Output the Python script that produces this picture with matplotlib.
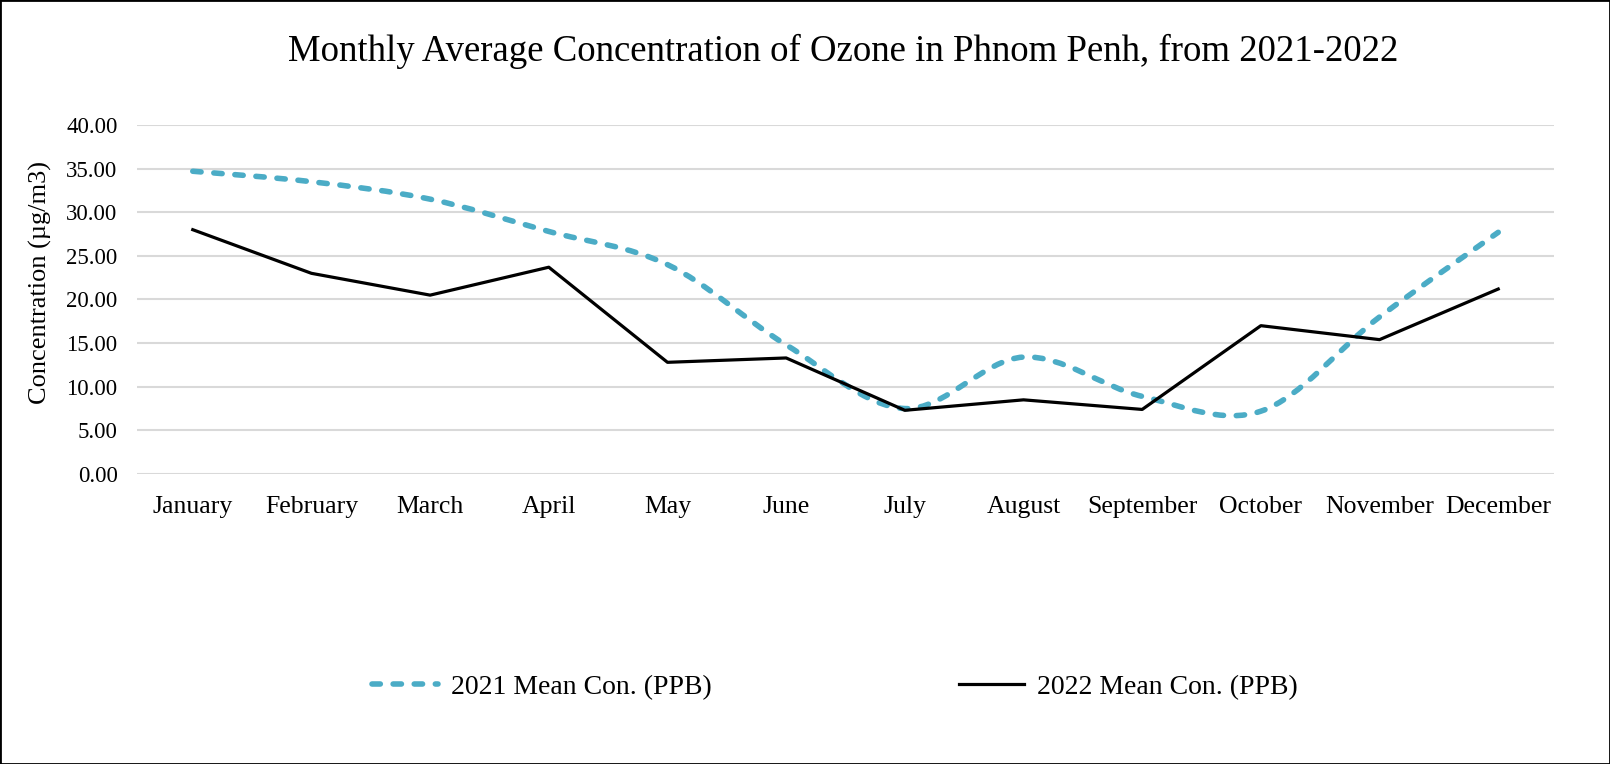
import numpy as np
import matplotlib.pyplot as plt
from matplotlib.path import Path
from matplotlib.patches import PathPatch, Rectangle
from matplotlib.lines import Line2D

plt.rcParams['font.family'] = ['Liberation Serif', 'DejaVu Serif']

months = ['January', 'February', 'March', 'April', 'May', 'June', 'July',
          'August', 'September', 'October', 'November', 'December']
mean_2021 = [34.7, 33.5, 31.5, 27.8, 24.0, 14.8, 7.5, 13.4, 8.9, 7.2, 18.0, 27.7]
mean_2022 = [28.0, 23.0, 20.5, 23.7, 12.8, 13.3, 7.3, 8.5, 7.4, 17.0, 15.4, 21.2]
yticks = [0, 5, 10, 15, 20, 25, 30, 35, 40]

W, H = 1610, 764
fig = plt.figure(figsize=(W / 100, H / 100), dpi=100)
ax = fig.add_axes([137 / W, 1 - 474 / H, (1554 - 137) / W, (474 - 125) / H])

x = np.arange(len(months))

# smoothed 2021 line (Excel-style bezier through the points)
pts = np.column_stack([x, mean_2021]).astype(float)
verts = [pts[0]]
codes = [Path.MOVETO]
n = len(pts)
for i in range(n - 1):
    p0 = pts[max(i - 1, 0)]
    p1 = pts[i]
    p2 = pts[i + 1]
    p3 = pts[min(i + 2, n - 1)]
    c1 = p1 + (p2 - p0) / 6
    c2 = p2 - (p3 - p1) / 6
    verts += [c1, c2, p2]
    codes += [Path.CURVE4] * 3
blue = '#4BACC6'
dash = (0, (1.5, 2.3))
patch = PathPatch(Path(verts, codes), fill=False, edgecolor=blue, lw=4,
                  linestyle=dash, capstyle='round', zorder=3)
ax.add_patch(patch)

ax.plot(x, mean_2022, color='black', lw=2.3, zorder=4)

ax.set_xlim(-0.47, len(months) - 0.53)
ax.set_ylim(0, 40)
ax.set_yticks(yticks)
ax.set_yticklabels([f'{v:.2f}' for v in yticks], fontsize=16.5)
ax.set_xticks(x)
ax.set_xticklabels(months, fontsize=18.5)
ax.tick_params(axis='y', length=0, pad=14)
ax.tick_params(axis='x', length=0, pad=16)
ax.grid(axis='y', color='#D9D9D9', lw=1.5)
ax.set_axisbelow(True)
for s in ax.spines.values():
    s.set_visible(False)

fig.text(40 / W, 1 - 283 / H, 'Concentration (µg/m3)', rotation=90,
         ha='center', va='center', fontsize=19)
fig.text(0.5 * (282 + 1405) / W, 1 - 51 / H,
         'Monthly Average Concentration of Ozone in Phnom Penh, from 2021-2022',
         ha='center', va='center', fontsize=26.5)

handles = [Line2D([], [], color=blue, lw=4, linestyle=dash,
                  dash_capstyle='round'),
           Line2D([], [], color='black', lw=2.3)]
fig.legend(handles, ['2021 Mean Con. (PPB)', '2022 Mean Con. (PPB)'],
           loc='center', bbox_to_anchor=(835 / W, 1 - 687 / H), ncol=2,
           frameon=False, fontsize=20, handlelength=2.35, handletextpad=0.47,
           columnspacing=8.9)

fig.add_artist(Rectangle((0, 0), 1, 1, transform=fig.transFigure, fill=False,
                         edgecolor='black', lw=2))

fig.savefig('out.png', dpi=100)
